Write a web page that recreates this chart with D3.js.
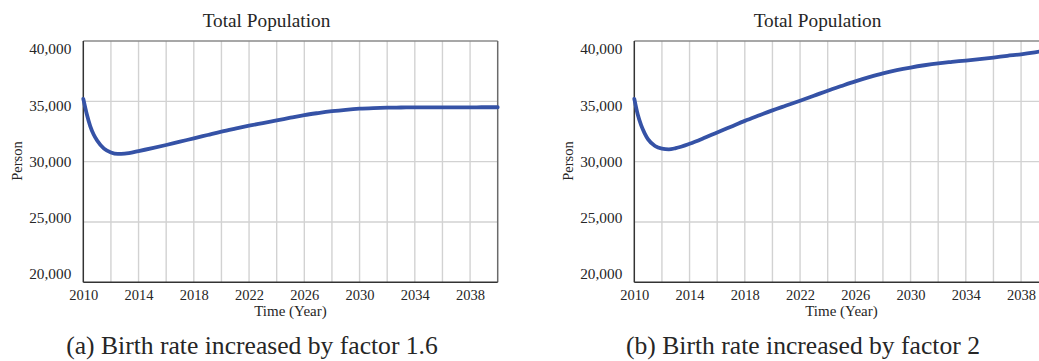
<!DOCTYPE html>
<html>
<head>
<meta charset="utf-8">
<script src="https://cdn.jsdelivr.net/npm/d3@7"></script>
<style>
  body { margin: 0; background: #fff; }
  svg { display: block; }
  text { font-family: 'Liberation Serif', 'Times New Roman', serif; fill: #262626; }
</style>
</head>
<body>
<svg id="chart" width="1039" height="361"></svg>
<script>
var years = [2010, 2010.25, 2010.5, 2010.75, 2011, 2011.5, 2012, 2012.5, 2013,
  2014, 2015, 2016, 2017, 2018, 2019, 2020, 2021, 2022, 2023, 2024, 2025, 2026,
  2027, 2028, 2029, 2030, 2031, 2032, 2033, 2034, 2035, 2036, 2037, 2038, 2039, 2040];

// birth rate x1.6
var popA = [35200, 33950, 32950, 32250, 31750, 31080, 30760, 30640, 30670,
  30880, 31120, 31380, 31660, 31930, 32210, 32490, 32740, 32980, 33200, 33420, 33640, 33860,
  34030, 34180, 34300, 34390, 34440, 34470, 34490, 34500, 34500, 34500, 34500, 34500, 34510, 34510];

// birth rate x2
var popB = [35200, 33900, 33000, 32350, 31850, 31300, 31080, 31020, 31120,
  31480, 31930, 32420, 32900, 33380, 33820, 34250, 34650, 35050, 35460, 35880, 36270, 36650,
  37000, 37320, 37580, 37800, 37990, 38150, 38270, 38380, 38500, 38630, 38770, 38900, 39060, 39240];

var yTicks = [20000, 25000, 30000, 35000, 40000];
var xTicks = [2010, 2014, 2018, 2022, 2026, 2030, 2034, 2038];
var xGrid = d3.range(2012, 2040, 2);
var captions = ["(a) Birth rate increased by factor 1.6", "(b) Birth rate increased by factor 2"];

var svg = d3.select("#chart");
var top_ = 41, bottom = 282.3;
var serif = "'Liberation Serif', 'Times New Roman', serif";

function drawPanel(values, left, caption) {
  var right = left + 414.4;
  var x = d3.scaleLinear().domain([2010, 2040]).range([left, right]);
  var y = d3.scaleLinear().domain([20000, 40000]).range([bottom, top_]);
  // tick labels sit slightly off the grid lines in the original
  var yLab = d3.scaleLinear().domain([20000, 40000]).range([274, 49]);

  var g = svg.append("g");

  // grid
  g.selectAll(".vg").data(xGrid).join("line")
    .attr("x1", d => x(d)).attr("x2", d => x(d))
    .attr("y1", top_).attr("y2", bottom)
    .attr("stroke", "#d2d2d2").attr("stroke-width", 1.4);
  g.selectAll(".hg").data([25000, 30000, 35000]).join("line")
    .attr("x1", left).attr("x2", right)
    .attr("y1", d => y(d)).attr("y2", d => y(d))
    .attr("stroke", "#d2d2d2").attr("stroke-width", 1.4);

  // frame
  g.append("line").attr("x1", left).attr("x2", right).attr("y1", top_).attr("y2", top_)
    .attr("stroke", "#8a8a8a").attr("stroke-width", 1.5);
  g.append("line").attr("x1", right).attr("x2", right).attr("y1", top_).attr("y2", bottom)
    .attr("stroke", "#6a6a6a").attr("stroke-width", 1.5);
  g.append("line").attr("x1", left).attr("x2", left).attr("y1", top_).attr("y2", bottom)
    .attr("stroke", "#333").attr("stroke-width", 1.5);
  g.append("line").attr("x1", left).attr("x2", right).attr("y1", bottom).attr("y2", bottom)
    .attr("stroke", "#333").attr("stroke-width", 1.5);

  // axes
  var yAxis = g.append("g").attr("transform", "translate(" + left + ",0)")
    .call(d3.axisLeft(yLab).tickValues(yTicks).tickSize(0).tickPadding(12).tickFormat(d3.format(",")));
  yAxis.select(".domain").remove();
  yAxis.selectAll("text").style("font-family", serif).style("font-size", "15.3px").attr("fill", "#262626");

  var xAxis = g.append("g").attr("transform", "translate(0," + bottom + ")")
    .call(d3.axisBottom(x).tickValues(xTicks).tickSize(0).tickPadding(7).tickFormat(d3.format("d")));
  xAxis.select(".domain").remove();
  xAxis.selectAll("text").style("font-family", serif).style("font-size", "14.5px").attr("fill", "#262626");

  // line
  var line = d3.line().x((d, i) => x(years[i])).y(d => y(d)).curve(d3.curveMonotoneX);
  g.append("path").datum(values)
    .attr("d", line)
    .attr("fill", "none")
    .attr("stroke", "#3552a6")
    .attr("stroke-width", 3.8)
    .attr("stroke-linecap", "round");

  var mid = (left + right) / 2;
  g.append("text").attr("x", mid - 24).attr("y", 26.7)
    .attr("text-anchor", "middle").style("font-size", "19.3px").text("Total Population");
  g.append("text").attr("x", mid).attr("y", 316)
    .attr("text-anchor", "middle").style("font-size", "15px").text("Time (Year)");
  g.append("text").attr("transform", "translate(" + (left - 61.5) + ",161) rotate(-90)")
    .attr("text-anchor", "middle").style("font-size", "14.5px").text("Person");
  g.append("text").attr("x", mid - 38.5).attr("y", 354.3)
    .attr("text-anchor", "middle").style("font-size", "25.6px").attr("fill", "#111").text(caption);
}

drawPanel(popA, 83.3, captions[0]);
drawPanel(popB, 634.3, captions[1]);
</script>
</body>
</html>
